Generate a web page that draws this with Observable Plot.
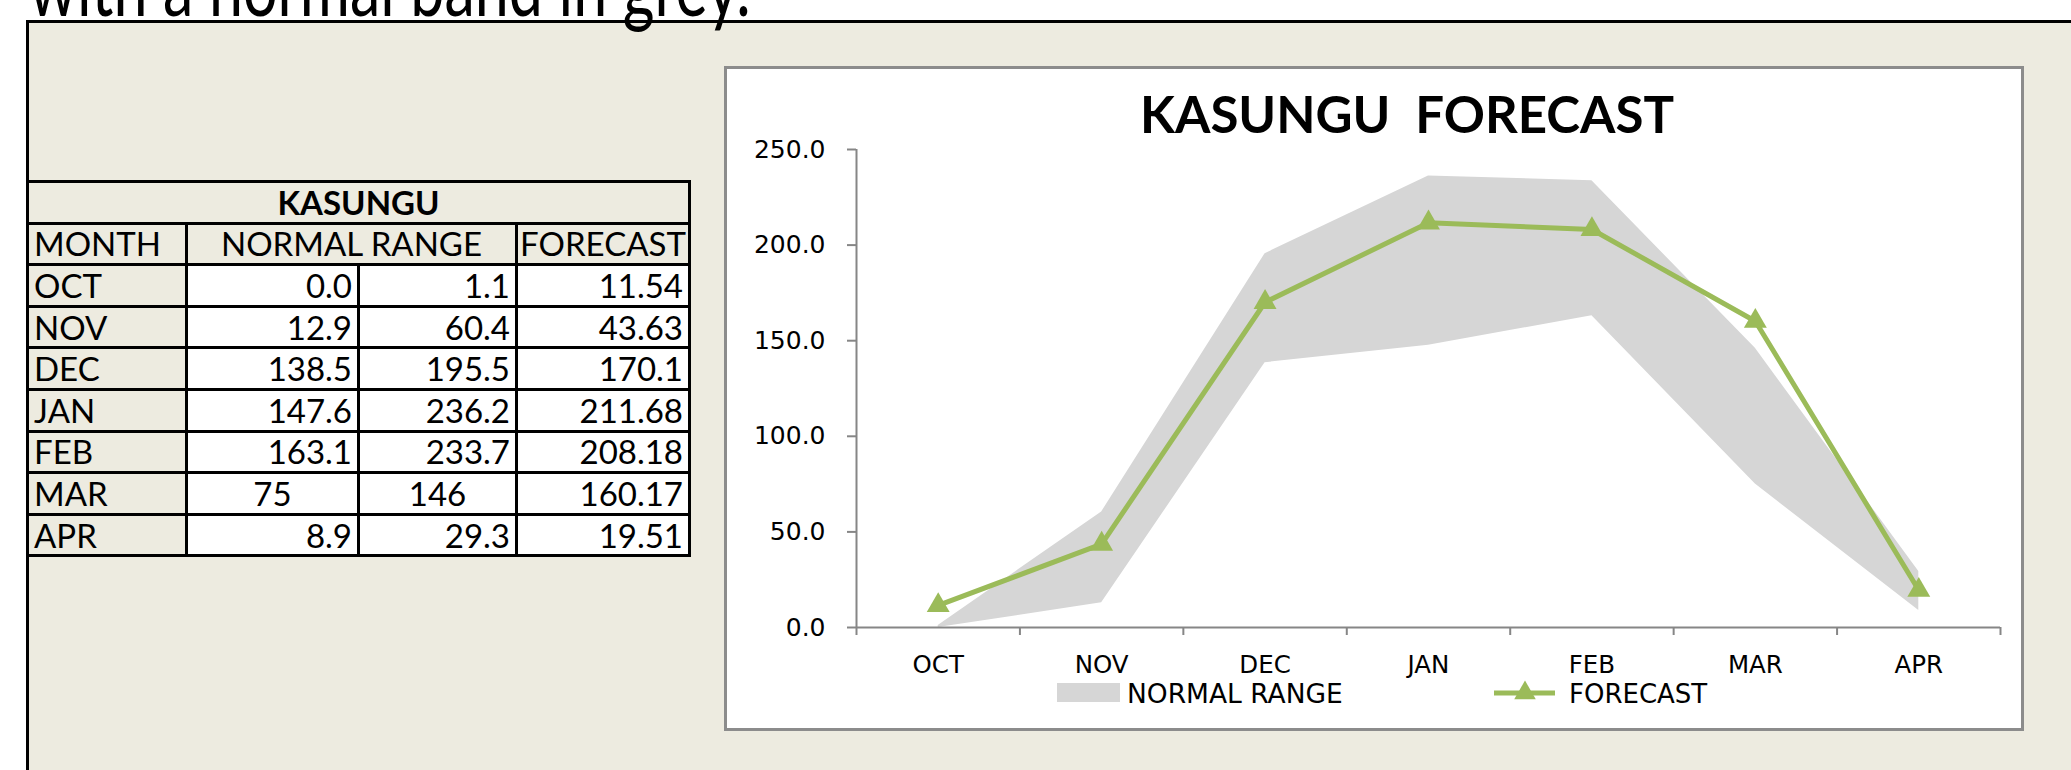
<!DOCTYPE html>
<html>
<head>
<meta charset="utf-8">
<script src="https://cdn.jsdelivr.net/npm/d3@7"></script>
<script src="https://cdn.jsdelivr.net/npm/@observablehq/plot@0.6"></script>
<style>
  html, body { margin: 0; padding: 0; background: #ffffff; width: 2071px; height: 770px; overflow: hidden; font-family: Lato, "Open Sans", sans-serif; }
  #panel { position: absolute; left: 26px; top: 20px; width: 2200px; height: 900px; background: #EDEBE0; border: 3px solid #000; box-sizing: border-box; }
  #tbl { position: absolute; left: 26px; top: 180px; border-collapse: collapse; table-layout: fixed; font-size: 33px; color: #000; }
  #tbl td { border: 3px solid #000; padding: 0 5px; line-height: 1; white-space: nowrap; overflow: visible; background: #EDEBE0; }
  #tbl tr { height: 41.6px; }
  #tbl td.num { background: #fff; text-align: right; }
  #tbl td.ctr { text-align: center; }
  #tbl td.title { font-weight: bold; text-align: center; }
  #chartbox { position: absolute; left: 724px; top: 66px; width: 1300px; height: 665px; background: #fff; border: 3px solid #8c8c8c; box-sizing: border-box; }
  #plot { position: absolute; left: 725px; top: 140px; }
  #overlay { position: absolute; left: 0; top: 0; pointer-events: none; }
</style>
</head>
<body>
<div id="panel"></div>
<table id="tbl"></table>
<div id="chartbox"></div>
<div id="plot"></div>
<svg id="overlay" width="2071" height="770"></svg>
<script>
// ---- data ----
const station = "KASUNGU";
const months = ["OCT", "NOV", "DEC", "JAN", "FEB", "MAR", "APR"];
const normalLowText  = ["0.0", "12.9", "138.5", "147.6", "163.1", "75", "8.9"];
const normalHighText = ["1.1", "60.4", "195.5", "236.2", "233.7", "146", "29.3"];
const forecastText   = ["11.54", "43.63", "170.1", "211.68", "208.18", "160.17", "19.51"];
const yTicks = [0, 50, 100, 150, 200, 250];
const headerLabels = ["MONTH", "NORMAL RANGE", "FORECAST"];
const chartTitle = "KASUNGU  FORECAST";
const headingText = "with a normal band in grey.";
const legendLabels = ["NORMAL RANGE", "FORECAST"];

const bandColor = "#D6D6D6";
const lineColor = "#9BBB59";
const axisColor = "#868686";
const axisFont = "'DejaVu Sans', Verdana, sans-serif";

// ---- table ----
const tbl = document.getElementById("tbl");
const colW = [159, 172, 158, 173];
let html = "<colgroup>" + colW.map(w => `<col style="width:${w}px">`).join("") + "</colgroup>";
html += `<tr><td class="title" colspan="4">${station}</td></tr>`;
html += `<tr><td>${headerLabels[0]}</td><td class="ctr" colspan="2">${headerLabels[1]}</td><td class="ctr" style="padding:0">${headerLabels[2]}</td></tr>`;
months.forEach((m, i) => {
  const cls = v => (v.includes(".") ? "num" : "num ctr");
  html += `<tr><td>${m}</td><td class="${cls(normalLowText[i])}">${normalLowText[i]}</td><td class="${cls(normalHighText[i])}">${normalHighText[i]}</td><td class="num">${forecastText[i]}</td></tr>`;
});
tbl.innerHTML = html;

// ---- chart ----
const data = months.map((m, i) => ({
  month: m,
  x: i + 0.5,
  low: parseFloat(normalLowText[i]),
  high: parseFloat(normalHighText[i]),
  forecast: parseFloat(forecastText[i])
}));

const chart = Plot.plot({
  width: 1295,
  height: 540,
  marginTop: 9,
  marginBottom: 53,
  marginLeft: 131,
  marginRight: 20,
  style: { background: "transparent", fontFamily: axisFont, fontSize: "25px", color: "#000", overflow: "visible" },
  x: { domain: [0, months.length], axis: null },
  y: { domain: [0, 250], axis: null },
  marks: [
    Plot.areaY(data, { x: "x", y1: "low", y2: "high", fill: bandColor }),
    Plot.ruleX([0], { stroke: axisColor, strokeWidth: 2 }),
    Plot.ruleY([0], { stroke: axisColor, strokeWidth: 2 }),
    Plot.axisY({ ticks: yTicks, tickFormat: d => d.toFixed(1), tickSize: 9, tickPadding: 22, stroke: axisColor, strokeWidth: 2, fill: "#000", fontSize: 25, label: null }),
    Plot.axisX({ ticks: d3.range(months.length + 1), tickFormat: () => "", tickSize: 8, stroke: axisColor, strokeWidth: 2, label: null }),
    Plot.axisX({ ticks: data.map(d => d.x), tickFormat: v => months[Math.floor(v)], tickSize: 0, tickPadding: 28, fill: "#000", fontSize: 24.5, label: null }),
    Plot.lineY(data, { x: "x", y: "forecast", stroke: lineColor, strokeWidth: 5, strokeLinejoin: "round" }),
    Plot.dot(data, { x: "x", y: "forecast", symbol: "triangle", r: 8.5, fill: lineColor })
  ]
});
document.getElementById("plot").appendChild(chart);

// ---- overlay: heading, chart title, legend ----
const ov = d3.select("#overlay");
ov.append("text").attr("transform", "translate(29,16) scale(1,1.35)")
  .attr("font-family", "Lato, sans-serif").attr("font-size", 61).attr("fill", "#000")
  .text(headingText);
ov.append("text").attr("x", 1407).attr("y", 133).attr("text-anchor", "middle")
  .attr("font-family", "Lato, sans-serif").attr("font-weight", "bold").attr("font-size", 51)
  .attr("fill", "#000").style("white-space", "pre").attr("xml:space", "preserve")
  .text(chartTitle);
// legend item 1: band swatch
ov.append("rect").attr("x", 1057).attr("y", 683).attr("width", 63).attr("height", 19).attr("fill", bandColor);
ov.append("text").attr("x", 1127).attr("y", 703).attr("font-family", axisFont).attr("font-size", 26.5).attr("fill", "#000").text(legendLabels[0]);
// legend item 2: line + triangle
ov.append("line").attr("x1", 1494).attr("x2", 1555).attr("y1", 693).attr("y2", 693).attr("stroke", lineColor).attr("stroke-width", 5);
ov.append("path").attr("transform", "translate(1525,693)").attr("d", d3.symbol(d3.symbolTriangle, Math.PI * 64)()).attr("fill", lineColor);
ov.append("text").attr("x", 1569).attr("y", 703).attr("font-family", axisFont).attr("font-size", 26).attr("fill", "#000").text(legendLabels[1]);
</script>
</body>
</html>
